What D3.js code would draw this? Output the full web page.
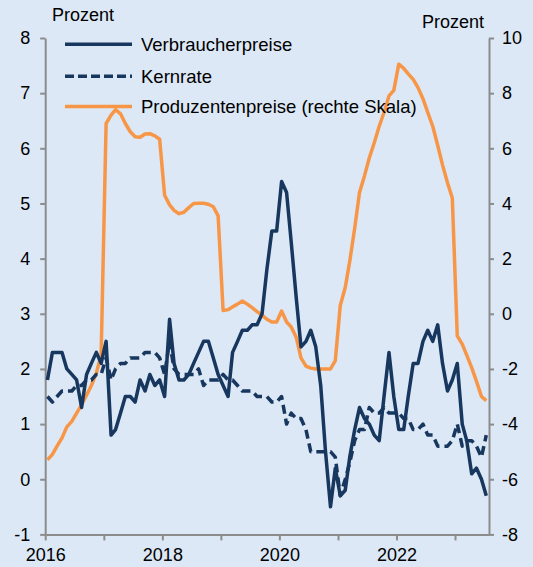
<!DOCTYPE html>
<html><head><meta charset="utf-8">
<script src="https://cdn.jsdelivr.net/npm/d3@7"></script>
<style>
html,body{margin:0;padding:0;background:#dce8f6;}
svg{display:block;font-family:"Liberation Sans",Arial,sans-serif;}
</style></head>
<body><svg id="c" width="533" height="567"></svg>
<script>
// Monthly data Jan 2016 – Jul 2023
const startYear = 2016, startMonth = 0;
const verbraucherpreise = [
 1.8,2.3,2.3,2.3,2.0,1.9,1.8,1.3,1.9,2.1,2.3,2.1,
 2.5,0.8,0.9,1.2,1.5,1.5,1.4,1.8,1.6,1.9,1.7,1.8,
 1.5,2.9,2.1,1.8,1.8,1.9,2.1,2.3,2.5,2.5,2.2,1.9,
 1.7,1.5,2.3,2.5,2.7,2.7,2.8,2.8,3.0,3.8,4.5,4.5,
 5.4,5.2,4.3,3.3,2.4,2.5,2.7,2.4,1.7,0.5,-0.5,0.2,
 -0.3,-0.2,0.4,0.9,1.3,1.1,1.0,0.8,0.7,1.5,2.3,1.5,
 0.9,0.9,1.5,2.1,2.1,2.5,2.7,2.5,2.8,2.1,1.6,1.8,
 2.1,1.0,0.7,0.1,0.2,0.0,-0.3
];
const kernrate = [
 1.5,1.4,1.5,1.6,1.6,1.6,1.7,1.7,1.8,1.8,1.9,1.9,
 2.2,1.8,2.0,2.1,2.1,2.2,2.2,2.2,2.3,2.3,2.3,2.2,
 1.9,2.5,2.0,1.9,1.9,1.9,1.9,2.0,1.7,1.8,1.8,1.8,
 1.9,1.8,1.8,1.7,1.6,1.6,1.6,1.5,1.5,1.5,1.4,1.4,
 1.5,1.0,1.2,1.1,1.1,0.9,0.5,0.5,0.5,0.5,0.5,0.4,
 -0.3,0.0,0.3,0.7,0.9,0.9,1.3,1.2,1.2,1.3,1.2,1.2,
 1.2,1.1,1.1,0.9,0.9,1.0,0.8,0.8,0.6,0.6,0.6,0.7,
 1.0,0.6,0.7,0.7,0.6,0.4,0.8
];
const produzentenpreise = [
 -5.3,-5.1,-4.8,-4.5,-4.1,-3.9,-3.6,-3.3,-2.95,-2.6,-2.15,-1.5,
 6.9,7.2,7.4,7.25,6.9,6.6,6.42,6.4,6.52,6.53,6.45,6.33,
 4.3,3.95,3.75,3.63,3.68,3.85,4.0,4.01,4.01,3.97,3.88,3.55,
 0.12,0.15,0.25,0.35,0.46,0.35,0.22,0.08,-0.05,-0.2,-0.3,-0.3,
 0.1,-0.3,-0.48,-0.85,-1.6,-1.9,-1.97,-2.0,-2.0,-2.0,-2.0,-1.7,
 0.3,0.95,1.9,3.1,4.4,5.0,5.65,6.2,6.8,7.3,7.9,8.1,
 9.05,8.9,8.7,8.5,8.2,7.8,7.3,6.8,6.1,5.4,4.75,4.2,
 -0.8,-1.1,-1.5,-1.95,-2.45,-3.0,-3.15
];
const leftTicks = [-1,0,1,2,3,4,5,6,7,8];
const rightTicks = [-8,-6,-4,-2,0,2,4,6,8,10];
const yearTicks = [2016,2017,2018,2019,2020,2021,2022,2023];
const yearLabels = [2016,2018,2020,2022];
const seriesNames = ["Verbraucherpreise","Kernrate","Produzentenpreise (rechte Skala)"];
const axisTitle = "Prozent";

const navy = "#17375e", orange = "#f79646", grey = "#8c8c8c";
const svg = d3.select("#c");
const L = 45.2, R = 489, T = 38, B = 534.4;

const x = d3.scaleTime().domain([new Date(2016,0,1), new Date(2023,7,1)]).range([L,R]);
const yL = d3.scaleLinear().domain([-1,8]).range([B,T]);
const yR = d3.scaleLinear().domain([-8,10]).range([B,T]);
const dateOf = i => new Date(startYear, startMonth + i, 15);

// axes
const fs = "18px";
const gL = svg.append("g").attr("transform",`translate(${L},0)`)
  .call(d3.axisLeft(yL).tickValues(leftTicks).tickSize(5).tickSizeOuter(0).tickPadding(10).tickFormat(d=>String(d)));
const gR = svg.append("g").attr("transform",`translate(${R},0)`)
  .call(d3.axisRight(yR).tickValues(rightTicks).tickSize(5).tickSizeOuter(0).tickPadding(8).tickFormat(d=>String(d)));
const gX = svg.append("g").attr("transform",`translate(0,${B})`)
  .call(d3.axisBottom(x).tickValues(yearTicks.map(y=>new Date(y,0,1))).tickSize(6).tickSizeOuter(0).tickPadding(5)
    .tickFormat(d => yearLabels.includes(d.getFullYear()) ? String(d.getFullYear()) : ""));
[gL,gR,gX].forEach(g=>{
  g.select(".domain").attr("stroke",grey).attr("stroke-width",2);
  g.selectAll(".tick line").attr("stroke",grey).attr("stroke-width",2);
  g.selectAll(".tick text").attr("fill","#000").style("font-size",fs).style("font-family","'Liberation Sans',Arial,sans-serif");
});
gX.selectAll(".tick text").attr("dy","0.85em");

// titles
svg.append("text").attr("x",52).attr("y",21).text(axisTitle).style("font-size",fs);
svg.append("text").attr("x",484).attr("y",28).attr("text-anchor","end").text(axisTitle).style("font-size",fs);

// lines
const lineL = d3.line().x((d,i)=>x(dateOf(i))).y(d=>yL(d));
const lineR = d3.line().x((d,i)=>x(dateOf(i))).y(d=>yR(d));
svg.append("path").datum(produzentenpreise).attr("d",lineR).attr("fill","none")
  .attr("stroke",orange).attr("stroke-width",3.5).attr("stroke-linejoin","round");
svg.append("path").datum(kernrate).attr("d",lineL).attr("fill","none")
  .attr("stroke",navy).attr("stroke-width",3.5).attr("stroke-dasharray","9,5").attr("stroke-linejoin","round");
svg.append("path").datum(verbraucherpreise).attr("d",lineL).attr("fill","none")
  .attr("stroke",navy).attr("stroke-width",3.5).attr("stroke-linejoin","round");

// legend
const leg = [
  {name:seriesNames[0], color:navy, dash:null, y:44.3},
  {name:seriesNames[1], color:navy, dash:"9,4", y:76.3},
  {name:seriesNames[2], color:orange, dash:null, y:106.5}
];
leg.forEach(d=>{
  svg.append("line").attr("x1",65).attr("x2",132).attr("y1",d.y).attr("y2",d.y)
    .attr("stroke",d.color).attr("stroke-width",3.5).attr("stroke-dasharray",d.dash);
  svg.append("text").attr("x",141).attr("y",d.y+6.5).text(d.name).style("font-size","18.5px");
});
</script></body></html>
